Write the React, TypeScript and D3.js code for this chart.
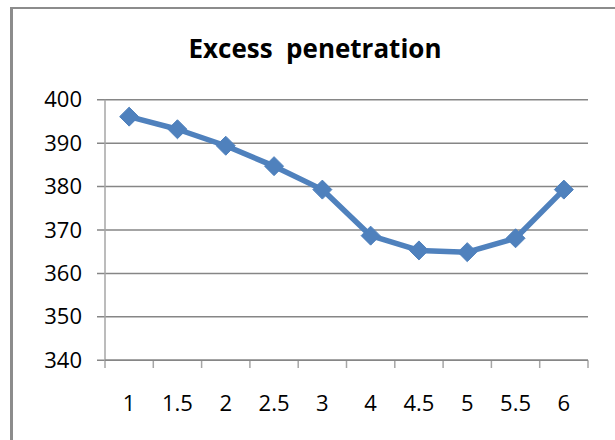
import React from "react";
import * as d3 from "d3";

const categories = ["1", "1.5", "2", "2.5", "3", "4", "4.5", "5", "5.5", "6"];
const values = [396.1, 393.2, 389.4, 384.7, 379.3, 368.7, 365.3, 364.9, 368.1, 379.3];
const yTicks = [340, 350, 360, 370, 380, 390, 400];
const title = "Excess\u00a0\u00a0penetration";

const W = 615;
const H = 440;
const plot = { left: 105, right: 588, top: 99.7, bottom: 360.3 };
const blue = "#4F81BD";
const grid = "#868686";
const font = "'Open Sans', 'DejaVu Sans', sans-serif";

export default function App() {
  const x = d3.scaleBand<string>().domain(categories).range([plot.left, plot.right]);
  const y = d3.scaleLinear().domain([340, 400]).range([plot.bottom, plot.top]);
  const cx = (c: string) => (x(c) as number) + x.bandwidth() / 2;
  const line = d3
    .line<number>()
    .x((_, i) => cx(categories[i]))
    .y((d) => y(d));
  const diamond = d3.symbol().type(d3.symbolDiamond2).size(230)();
  const boundaries = categories.map((c) => x(c) as number).concat([plot.right]);

  return (
    <svg
      width={W}
      height={H}
      style={{ position: "absolute", left: 0, top: 0, background: "#fff" }}
    >
      <rect x={0} y={0} width={W} height={H} fill="#fff" />
      {/* chart border */}
      <line x1={11.5} y1={7} x2={11.5} y2={H} stroke="#8c8c8c" strokeWidth={3} />
      <line x1={10} y1={8} x2={W} y2={8} stroke="#8c8c8c" strokeWidth={2} />

      <text
        x={315}
        y={58}
        textAnchor="middle"
        fontFamily={font}
        fontWeight="bold"
        fontSize={27}
        textLength={253}
        lengthAdjust="spacingAndGlyphs"
        fill="#000"
      >
        {title}
      </text>

      {/* gridlines & y ticks */}
      {yTicks.map((t) => (
        <g key={t}>
          <line
            x1={97}
            x2={plot.right}
            y1={y(t)}
            y2={y(t)}
            stroke={grid}
            strokeWidth={1.5}
          />
          <text
            x={82}
            y={y(t) + 7.5}
            textAnchor="end"
            style={{ fontFamily: font, fontSize: "22px" }}
            fill="#000"
          >
            {t}
          </text>
        </g>
      ))}

      {/* y axis */}
      <line x1={plot.left} x2={plot.left} y1={plot.top} y2={plot.bottom} stroke="#a6a6a6" strokeWidth={1.5} />
      {/* x axis ticks */}
      {boundaries.map((b, i) => (
        <line key={i} x1={b} x2={b} y1={plot.bottom} y2={368} stroke="#a6a6a6" strokeWidth={1.5} />
      ))}
      <line x1={plot.left} x2={plot.right} y1={plot.bottom} y2={plot.bottom} stroke={grid} strokeWidth={1.5} />

      {categories.map((c) => (
        <text
          key={c}
          x={cx(c)}
          y={411}
          textAnchor="middle"
          style={{ fontFamily: font, fontSize: "22px" }}
          fill="#000"
        >
          {c}
        </text>
      ))}

      <path d={line(values) as string} fill="none" stroke={blue} strokeWidth={5.5} strokeLinejoin="round" />
      {values.map((v, i) => (
        <path
          key={i}
          d={diamond as string}
          transform={`translate(${cx(categories[i])},${y(v)})`}
          fill={blue}
          stroke={blue}
          strokeWidth={1}
          strokeLinejoin="round"
        />
      ))}
    </svg>
  );
}
